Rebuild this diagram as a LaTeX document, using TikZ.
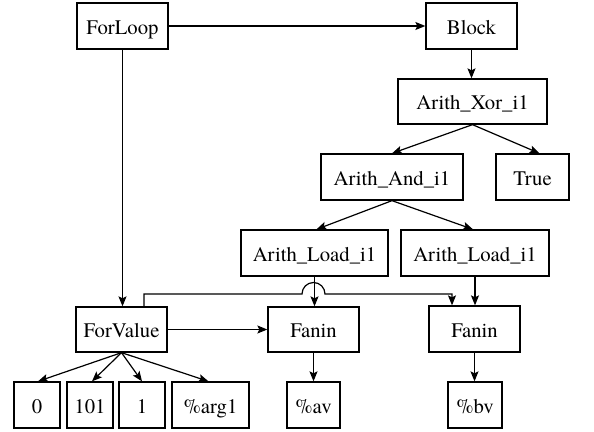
\documentclass[tikz,border=0pt]{standalone}
\usepackage{fontspec}
\setmainfont{texgyretermes}[Extension=.otf,UprightFont=*-regular,BoldFont=*-bold]
\usetikzlibrary{arrows.meta}
\begin{document}
\begin{tikzpicture}[x=1pt,y=-1pt,
  box/.style={draw,line width=1.3pt,inner sep=0pt,minimum height=46pt,text height=17pt,text depth=0.4pt,font=\fontsize{20.7}{24}\selectfont},
  arr/.style={line width=1.2pt,-{Stealth[length=10pt,width=8pt,inset=2pt]}}]
\useasboundingbox (0,0) rectangle (594,431);
\node[box,minimum width=91pt] (forloop) at (122.5,26) {ForLoop};
\node[box,minimum width=91pt] (block) at (471.5,26) {Block};
\node[box,minimum width=149pt,minimum height=45pt] (xor) at (472.5,101.5) {Arith\_Xor\_i1};
\node[box,minimum width=142pt] (and) at (392,177) {Arith\_And\_i1};
\node[box,minimum width=73pt] (true) at (532.5,177) {True};
\node[box,minimum width=147pt] (loadL) at (314.5,253) {Arith\_Load\_i1};
\node[box,minimum width=148pt] (loadR) at (475,253) {Arith\_Load\_i1};
\node[box,minimum width=91pt,minimum height=45pt] (forvalue) at (121.5,329.5) {ForValue};
\node[box,minimum width=91pt,minimum height=45pt] (faninL) at (313.5,329.5) {Fanin};
\node[box,minimum width=91pt] (faninR) at (474.5,329) {Fanin};
\node[box,minimum width=46pt] (n0) at (37,405) {0};
\node[box,minimum width=46pt] (n101) at (90,405) {101};
\node[box,minimum width=46pt] (n1) at (142,405) {1};
\node[box,minimum width=77pt] (arg) at (210.5,405) {\%arg1};
\node[box,minimum width=53pt] (av) at (313.5,405) {\%av};
\node[box,minimum width=54pt] (bv) at (475,405) {\%bv};
\coordinate (hopR) at (452,294);

\draw[arr] (forloop.east) -- (block.west);
\draw[arr] (forloop.south) -- (forloop.south |- forvalue.north);
\draw[arr] (block.south) -- (block.south |- xor.north);
\draw[arr] (xor.south) -- (and.north);
\draw[arr] (xor.south) -- ([xshift=7pt]true.north);
\draw[arr] (and.south) -- ([xshift=2pt]loadL.north);
\draw[arr] (and.south) -- ([xshift=-2pt]loadR.north);
\draw[arr] (loadL.south) -- (loadL.south |- faninL.north);
\draw[arr] (loadR.south) -- (loadR.south |- faninR.north);
\draw[arr] (forvalue.east) -- (faninL.west);
\draw[arr] (faninL.south) -- (faninL.south |- av.north);
\draw[arr] (faninR.south) -- (faninR.south |- bv.north);
\draw[arr] (forvalue.south) -- ([xshift=1pt]n0.north);
\draw[arr] (forvalue.south) -- ([xshift=2pt]n101.north);
\draw[arr] (forvalue.south) -- (n1.north);
\draw[arr] (forvalue.south) -- ([xshift=-2pt]arg.north);
\draw[arr] ([xshift=22.5pt]forvalue.north) -- (144,294) -- (302,294)
  arc[start angle=180,end angle=360,radius=11.5] -- (hopR) -- (hopR |- faninR.north);
\end{tikzpicture}
\end{document}
